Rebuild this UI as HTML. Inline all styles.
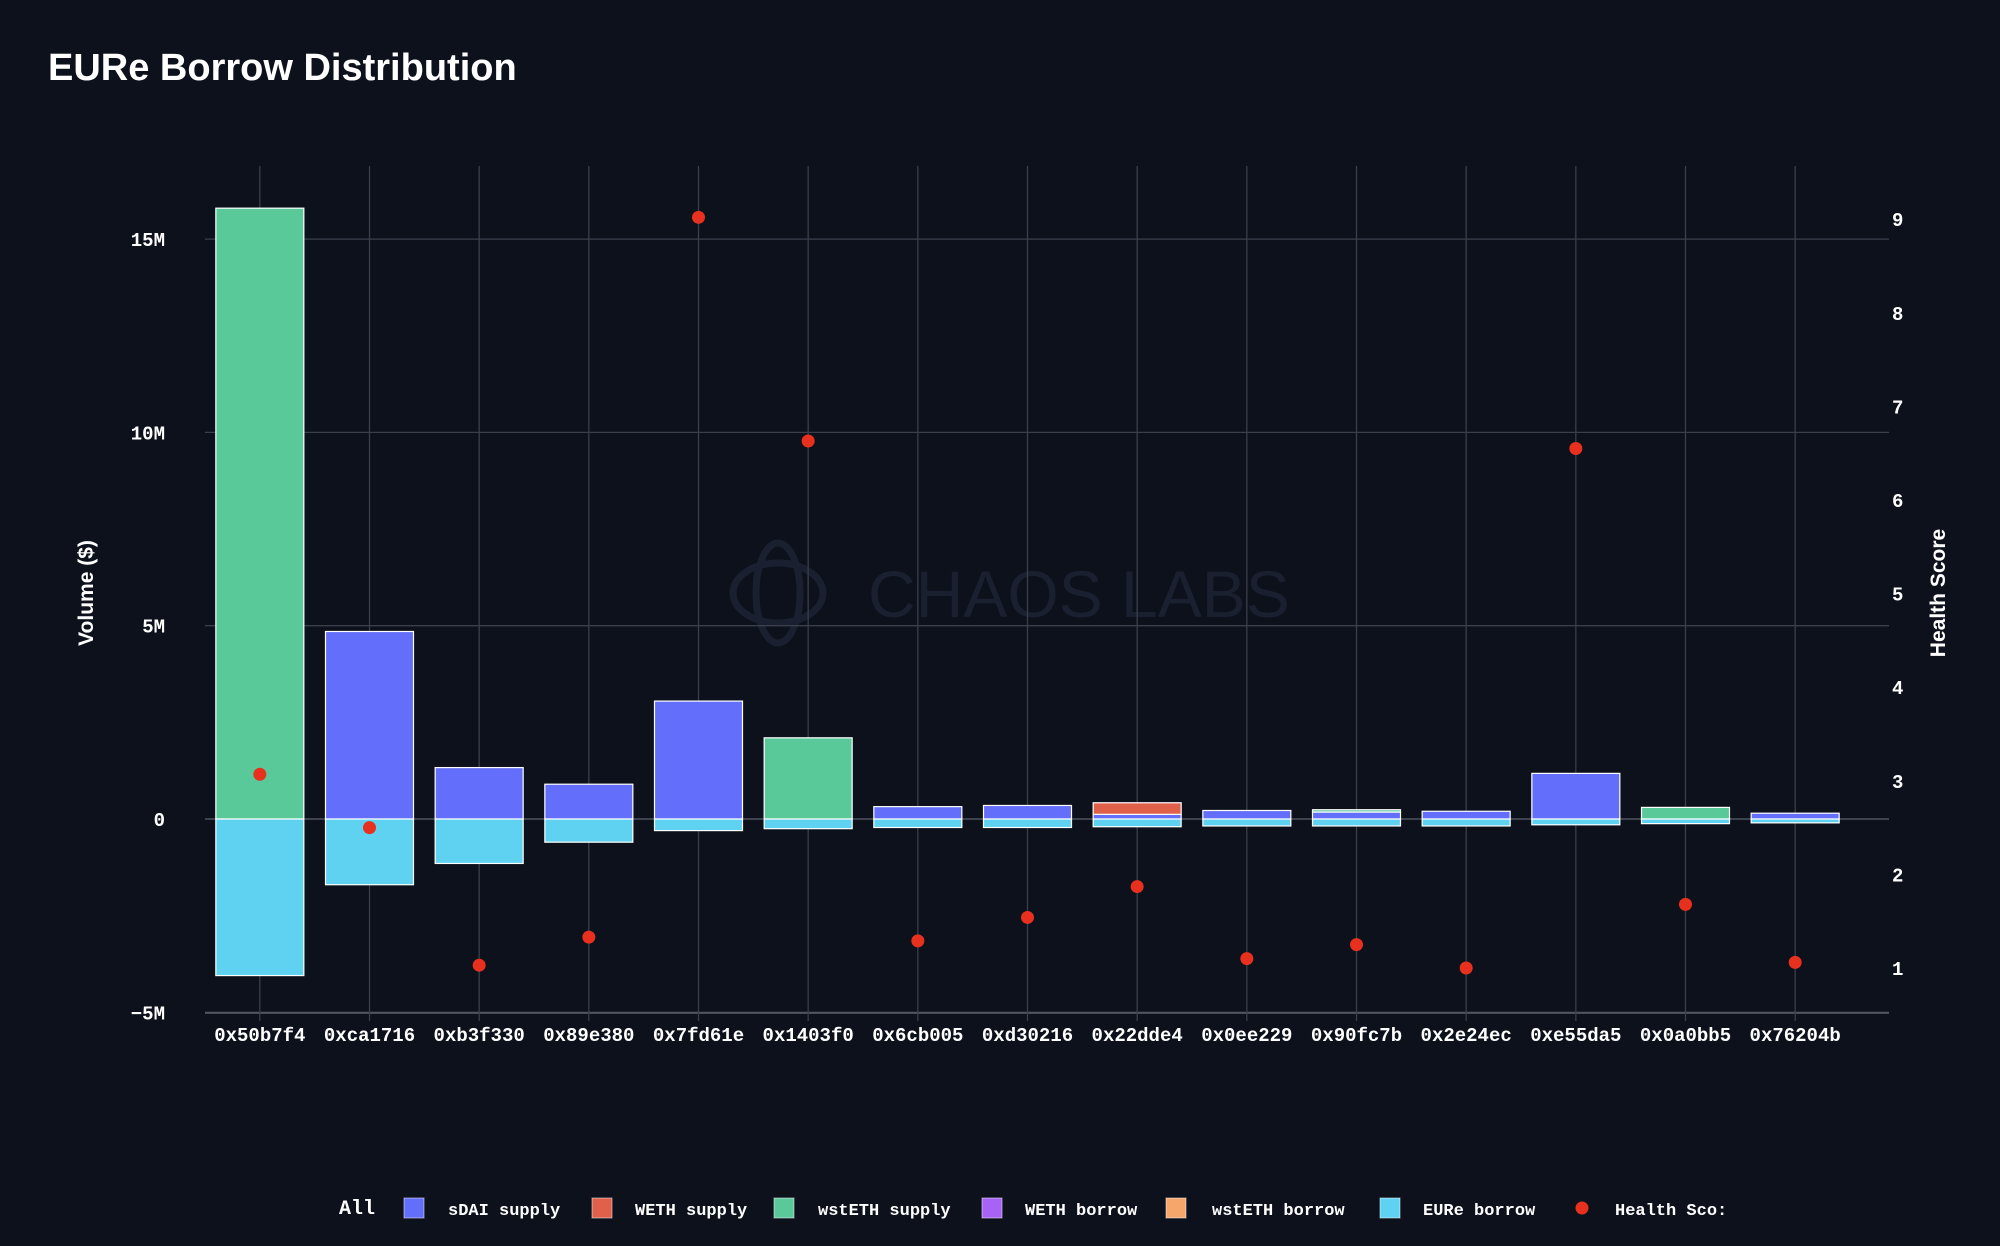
<!DOCTYPE html>
<html><head><meta charset="utf-8"><style>
html,body{margin:0;padding:0;background:#0c111c;width:2000px;height:1246px;overflow:hidden}
svg text{font-family:"Liberation Mono",monospace}
</style></head><body>
<svg id="chart" width="2000" height="1246" xmlns="http://www.w3.org/2000/svg">
<rect width="2000" height="1246" fill="#0c111c"/>
<text x="48" y="80" fill="#fff" font-size="38" font-weight="bold" style="font-family:'Liberation Sans',sans-serif">EURe Borrow Distribution</text>
<g stroke="#1a2030" stroke-width="7" fill="none">
<ellipse cx="778" cy="593" rx="45" ry="30"/>
<ellipse cx="778" cy="593" rx="22" ry="50"/>
</g>
<text x="868" y="617" fill="#1a2030" font-size="66" style="font-family:'Liberation Sans',sans-serif">CHAOS LABS</text>
<g id="grid"></g>
<g id="bars"></g>
<g id="dots"></g>
<g id="axes"></g>
<text transform="translate(93,593) rotate(-90)" fill="#fff" font-size="21" font-weight="bold" text-anchor="middle" style="font-family:'Liberation Sans',sans-serif">Volume ($)</text>
<text transform="translate(1945,593) rotate(-90)" fill="#fff" font-size="21" font-weight="bold" text-anchor="middle" style="font-family:'Liberation Sans',sans-serif">Health Score</text>
<g id="legend"></g>
</svg>
<script>
const categories=["0x50b7f4","0xca1716","0xb3f330","0x89e380","0x7fd61e","0x1403f0","0x6cb005","0xd30216","0x22dde4","0x0ee229","0x90fc7b","0x2e24ec","0xe55da5","0x0a0bb5","0x76204b"];
const sdaiSupply=[0,4.85,1.33,0.9,3.05,0,0.32,0.35,0.12,0.22,0.18,0.2,1.18,0,0.15];
const wethSupply=[0,0,0,0,0,0,0,0,0.3,0,0,0,0,0,0];
const wstethSupply=[15.8,0,0,0,0,2.1,0,0,0,0,0.06,0,0,0.3,0];
const wethBorrow=[0,0,0,0,0,0,0,0,0,0,0,0,0,0,0];
const wstethBorrow=[0,0,0,0,0,0,0,0,0,0,0,0,0,0,0];
const eureBorrow=[-4.05,-1.7,-1.15,-0.6,-0.3,-0.25,-0.22,-0.22,-0.2,-0.18,-0.18,-0.18,-0.15,-0.12,-0.1];
const healthScore=[3.07,2.5,1.03,1.33,9.02,6.63,1.29,1.54,1.87,1.1,1.25,1.0,6.55,1.68,1.06];
const yTicks=[-5,0,5,10,15];
const yTickLabels=["−5M","0","5M","10M","15M"];
const y2Ticks=[1,2,3,4,5,6,7,8,9];

const NS="http://www.w3.org/2000/svg";
const X0=205,X1=1850,GRIDR=1889,TOP=166,BOT=1013;
const band=(X1-X0)/categories.length;
const xc=i=>X0+band*(i+0.5);
const y=v=>819-v*193.3/5;
const y2=v=>968-(v-1)*93.6;
function mk(tag,attrs,parent){const e=document.createElementNS(NS,tag);for(const k in attrs)e.setAttribute(k,attrs[k]);parent.appendChild(e);return e;}
const grid=document.getElementById('grid'),bars=document.getElementById('bars'),dots=document.getElementById('dots'),axes=document.getElementById('axes'),legend=document.getElementById('legend');

yTicks.forEach((t,i)=>{
  const l=mk('line',{x1:X0,x2:GRIDR,y1:y(t),y2:y(t),stroke:t===0?'#5a5f6b':'#3a3f4b','stroke-width':1.3},grid);
  
  
  const tx=mk('text',{x:165,y:y(t)+7,fill:'#fff','font-size':19,'font-weight':'bold','text-anchor':'end'},axes);
  tx.textContent=yTickLabels[i];
  
  
});
const bl=mk('line',{x1:X0,x2:GRIDR,y1:BOT,y2:BOT,stroke:'#5a5f6b','stroke-width':1.5},grid);


y2Ticks.forEach(t=>{
  const tx=mk('text',{x:1892,y:y2(t)+7,fill:'#fff','font-size':19,'font-weight':'bold'},axes);
  tx.textContent=t;
  
  
});
categories.forEach((c,i)=>{
  const l=mk('line',{x1:xc(i),x2:xc(i),y1:TOP,y2:BOT+8,stroke:'#3a3f4b','stroke-width':1.3},grid);
  
  
  const tx=mk('text',{x:xc(i),y:1041,fill:'#fff','font-size':19,'font-weight':'bold','text-anchor':'middle'},axes);
  tx.textContent=c;
  
  
});
const series=[
  {name:'sDAI supply',data:sdaiSupply,color:'#636efa'},
  {name:'WETH supply',data:wethSupply,color:'#e0604a'},
  {name:'wstETH supply',data:wstethSupply,color:'#5ac99a'},
  {name:'WETH borrow',data:wethBorrow,color:'#a663f5'},
  {name:'wstETH borrow',data:wstethBorrow,color:'#f7a66a'},
  {name:'EURe borrow',data:eureBorrow,color:'#5fd2f2'}
];
const bw=88;
categories.forEach((c,i)=>{
  let pos=0,neg=0;
  series.forEach(s=>{
    const v=s.data[i]; if(!v) return;
    let a,b;
    if(v>0){a=pos;b=pos+v;pos=b;}else{a=neg;b=neg+v;neg=b;}
    const top=Math.min(y(a),y(b)),h=Math.abs(y(a)-y(b));
    const r=mk('rect',{x:xc(i)-bw/2,y:top,width:bw,height:Math.max(h,1),fill:s.color,stroke:'#ffffff','stroke-width':1.2},bars);
    
    
  });
  const d=mk('circle',{cx:xc(i),cy:y2(healthScore[i]),r:6.5,fill:'#e8301e'},dots);
  
  
});
const ly=1208;
const all=mk('text',{x:339,y:ly+6,fill:'#fff','font-size':20,'font-weight':'bold'},legend);
all.textContent='All';


const lx=[[404,448],[592,635],[774,818],[982,1025],[1166,1212],[1380,1423]];
series.forEach((s,k)=>{
  const r=mk('rect',{x:lx[k][0],y:ly-10,width:20,height:20,fill:s.color,stroke:'#ffffff','stroke-opacity':0.5,'stroke-width':1},legend);
  
  
  const t=mk('text',{x:lx[k][1],y:ly+7,fill:'#fff','font-size':17,'font-weight':'bold'},legend);
  t.textContent=s.name;
  
  
});
const hc=mk('circle',{cx:1582,cy:ly,r:6.5,fill:'#e8301e'},legend);


const ht=mk('text',{x:1615,y:ly+7,fill:'#fff','font-size':17,'font-weight':'bold'},legend);
ht.textContent='Health Sco:';


</script>
</body></html>
